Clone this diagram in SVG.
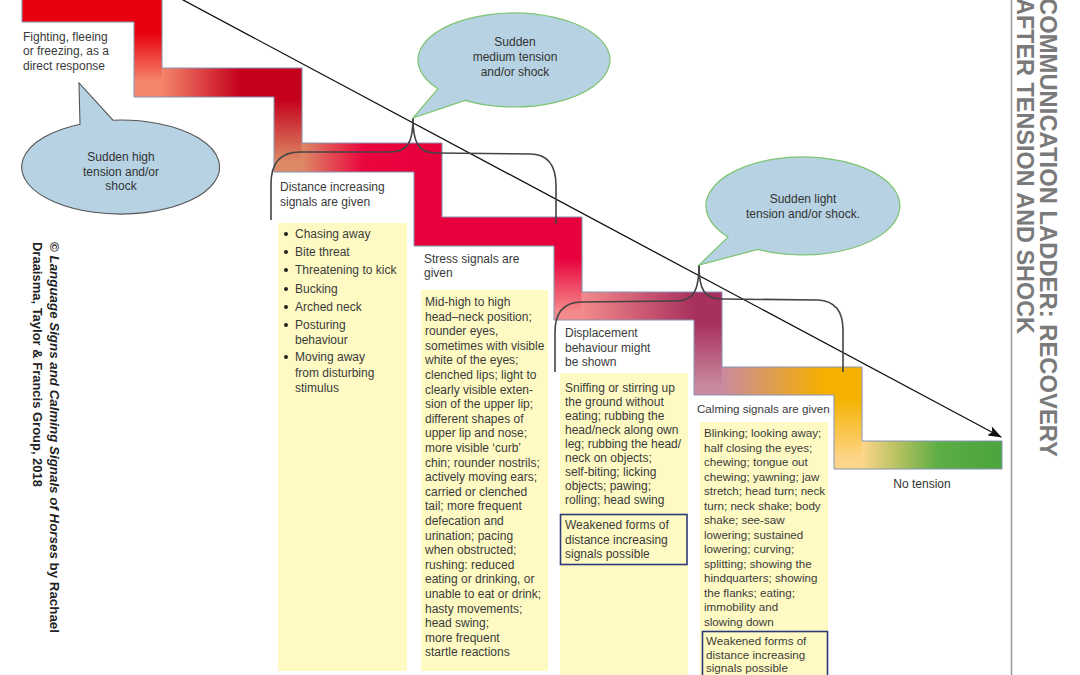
<svg xmlns="http://www.w3.org/2000/svg" width="1080" height="675" viewBox="0 0 1080 675">
<defs>
<style>
.t{font-family:"Liberation Sans",Arial,sans-serif;font-size:12px;fill:#3a3a3a}
.t4{font-family:"Liberation Sans",Arial,sans-serif;font-size:11.6px;fill:#3a3a3a}
.bt{font-family:"Liberation Sans",Arial,sans-serif;font-size:12px;fill:#333;text-anchor:middle}
.col{fill:#fffac4}
.wk{fill:none;stroke:#2b3a78;stroke-width:1.6}
.bub{fill:#b6d2e3;stroke:#7cc46f;stroke-width:1.2}
.brace{fill:none;stroke:#444;stroke-width:1.6}
.title{font-family:"Liberation Sans",Arial,sans-serif;font-weight:bold;font-size:23px;fill:#7a7a7a}
.copy{font-family:"Liberation Sans",Arial,sans-serif;font-weight:bold;font-size:12.5px;fill:#222}
</style>
<marker id="arr" viewBox="0 0 14 10" refX="13" refY="5" markerWidth="14" markerHeight="10" markerUnits="userSpaceOnUse" orient="auto">
<path d="M0,0 L14,5 L0,10 L3,5 Z" fill="#111"/>
</marker>
<linearGradient id="v1" x1="0" y1="0" x2="0" y2="1"><stop offset="0" stop-color="#e8000e"/><stop offset="0.38" stop-color="#e8000e"/><stop offset="0.85" stop-color="#f5866c"/><stop offset="1" stop-color="#f5866c"/></linearGradient>
<linearGradient id="h1" x1="0" y1="0" x2="1" y2="0"><stop offset="0" stop-color="#f5866c"/><stop offset="0.7" stop-color="#c4001c"/><stop offset="1" stop-color="#c4001c"/></linearGradient>
<linearGradient id="v2" x1="0" y1="0" x2="0" y2="1"><stop offset="0" stop-color="#c4001c"/><stop offset="0.3" stop-color="#c4001c"/><stop offset="0.9" stop-color="#dc8a66"/><stop offset="1" stop-color="#dc8a66"/></linearGradient>
<linearGradient id="h2" x1="0" y1="0" x2="1" y2="0"><stop offset="0" stop-color="#dc8a66"/><stop offset="0.55" stop-color="#ea053e"/><stop offset="1" stop-color="#e8003c"/></linearGradient>
<linearGradient id="v4" x1="0" y1="0" x2="0" y2="1"><stop offset="0" stop-color="#e8003c"/><stop offset="0.4" stop-color="#e8003c"/><stop offset="0.92" stop-color="#f48a8a"/><stop offset="1" stop-color="#f48a8a"/></linearGradient>
<linearGradient id="h4" x1="0" y1="0" x2="1" y2="0"><stop offset="0" stop-color="#f48a8a"/><stop offset="1" stop-color="#a8305e"/></linearGradient>
<linearGradient id="v5" x1="0" y1="0" x2="0" y2="1"><stop offset="0" stop-color="#a8305e"/><stop offset="0.3" stop-color="#a8305e"/><stop offset="0.92" stop-color="#c98aa0"/><stop offset="1" stop-color="#c98aa0"/></linearGradient>
<linearGradient id="h5" x1="0" y1="0" x2="1" y2="0"><stop offset="0" stop-color="#c98aa0"/><stop offset="0.9" stop-color="#f5b000"/><stop offset="1" stop-color="#f5b000"/></linearGradient>
<linearGradient id="v6" x1="0" y1="0" x2="0" y2="1"><stop offset="0" stop-color="#f5b200"/><stop offset="0.3" stop-color="#f5b200"/><stop offset="0.92" stop-color="#fdd68c"/><stop offset="1" stop-color="#fdd68c"/></linearGradient>
<linearGradient id="h6" x1="0" y1="0" x2="1" y2="0"><stop offset="0" stop-color="#fdd68c"/><stop offset="0.25" stop-color="#b9c262"/><stop offset="0.55" stop-color="#5cad44"/><stop offset="1" stop-color="#4aa53c"/></linearGradient>
</defs>
<rect width="1080" height="675" fill="#ffffff"/>

<g id="ladder">
<rect x="22" y="-7" width="113" height="29" fill="#e8000e"/>
<rect x="134" y="-7" width="28" height="104" fill="url(#v1)"/>
<rect x="161.5" y="68" width="113" height="29" fill="url(#h1)"/>
<rect x="274" y="68" width="28" height="104" fill="url(#v2)"/>
<rect x="301.5" y="143" width="113" height="29" fill="url(#h2)"/>
<rect x="414" y="143" width="28" height="103" fill="#e8003c"/>
<rect x="441.5" y="217" width="113" height="29" fill="#e8003c"/>
<rect x="554" y="217" width="28" height="103" fill="url(#v4)"/>
<rect x="581.5" y="292" width="113" height="28" fill="url(#h4)"/>
<rect x="694" y="292" width="28" height="103" fill="url(#v5)"/>
<rect x="721.5" y="367" width="113" height="28" fill="url(#h5)"/>
<rect x="834" y="367" width="28" height="102" fill="url(#v6)"/>
<rect x="861.5" y="441" width="140.5" height="28" fill="url(#h6)"/>
<path d="M22,-7 L162,-7 L162,68 L302,68 L302,143 L442,143 L442,217 L582,217 L582,292 L722,292 L722,367 L862,367 L862,441 L1002,441 L1002,469 L834,469 L834,395 L694,395 L694,320 L554,320 L554,246 L414,246 L414,172 L274,172 L274,97 L134,97 L134,22 L22,22 Z" fill="none" stroke="#8494b4" stroke-width="1"/>
</g>

<g id="connectors">
<line x1="170" y1="-7" x2="1001" y2="437" stroke="#111" stroke-width="1.3" marker-end="url(#arr)"/>
<path class="brace" d="M413,118 C413,142 408,152 390,152 L300,152 C280,152 271,163 271,184 L271,220"/>
<path class="brace" d="M413,118 C413,142 418,153 436,153 L530,154 C549,154 556,166 556,186 L556,224"/>
<path class="brace" d="M699,265 C699,290 694,301 676,301 L580,302 C562,303 555,314 555,332 L555,372"/>
<path class="brace" d="M699,265 C699,289 704,299 722,299 L818,300 C836,301 843,312 843,330 L843,372"/>
</g>

<g id="fight">
<text class="t" x="23" y="41">Fighting, fleeing</text>
<text class="t" x="23" y="55">or freezing, as a</text>
<text class="t" x="23" y="70">direct response</text>
</g>

<g id="bubble-high">
<path d="M80,124.2 L79,83 L113,120.2 A99,47 0 1,1 80,124.2 Z" fill="#b6d2e3" stroke="#555" stroke-width="1.1"/>
<text class="bt" x="121" y="161">Sudden high</text>
<text class="bt" x="121" y="176">tension and/or</text>
<text class="bt" x="121" y="190">shock</text>
</g>

<g id="bubble-medium">
<path class="bub" d="M438,88.7 L413,118 L465,100.4 A96,47 0 1,0 438,88.7 Z"/>
<text class="bt" x="515" y="46">Sudden</text>
<text class="bt" x="515" y="61">medium tension</text>
<text class="bt" x="515" y="76">and/or shock</text>
</g>

<g id="bubble-light">
<path class="bub" d="M728,237.1 L699,265 L758,249.4 A97,49 0 1,0 728,237.1 Z"/>
<text class="bt" x="803" y="203">Sudden light</text>
<text class="bt" x="803" y="218">tension and/or shock.</text>
</g>

<g id="distance">
<text class="t" x="280" y="191">Distance increasing</text>
<text class="t" x="280" y="206">signals are given</text>
<rect class="col" x="278" y="223" width="129" height="448"/>
<g fill="#222">
<circle cx="286" cy="234" r="2"/><circle cx="286" cy="252" r="2"/><circle cx="286" cy="270" r="2"/><circle cx="286" cy="289" r="2"/><circle cx="286" cy="307" r="2"/><circle cx="286" cy="325" r="2"/><circle cx="286" cy="357" r="2"/>
</g>
<text class="t" x="295" y="238">Chasing away</text>
<text class="t" x="295" y="256">Bite threat</text>
<text class="t" x="295" y="274">Threatening to kick</text>
<text class="t" x="295" y="293">Bucking</text>
<text class="t" x="295" y="311">Arched neck</text>
<text class="t" x="295" y="329">Posturing</text>
<text class="t" x="295" y="344">behaviour</text>
<text class="t" x="295" y="361">Moving away</text>
<text class="t" x="295" y="377">from disturbing</text>
<text class="t" x="295" y="392">stimulus</text>
</g>

<g id="stress">
<text class="t" x="424" y="263">Stress signals are</text>
<text class="t" x="424" y="277">given</text>
<rect class="col" x="421" y="290" width="127" height="381"/>
<text class="t" x="425" y="306">Mid-high to high</text>
<text class="t" x="425" y="320.6">head–neck position;</text>
<text class="t" x="425" y="335.2">rounder eyes,</text>
<text class="t" x="425" y="349.8">sometimes with visible</text>
<text class="t" x="425" y="364.4">white of the eyes;</text>
<text class="t" x="425" y="379">clenched lips; light to</text>
<text class="t" x="425" y="393.6">clearly visible exten-</text>
<text class="t" x="425" y="408.2">sion of the upper lip;</text>
<text class="t" x="425" y="422.8">different shapes of</text>
<text class="t" x="425" y="437.4">upper lip and nose;</text>
<text class="t" x="425" y="452">more visible ‘curb’</text>
<text class="t" x="425" y="466.6">chin; rounder nostrils;</text>
<text class="t" x="425" y="481.2">actively moving ears;</text>
<text class="t" x="425" y="495.8">carried or clenched</text>
<text class="t" x="425" y="510.4">tail; more frequent</text>
<text class="t" x="425" y="525">defecation and</text>
<text class="t" x="425" y="539.6">urination; pacing</text>
<text class="t" x="425" y="554.2">when obstructed;</text>
<text class="t" x="425" y="568.8">rushing: reduced</text>
<text class="t" x="425" y="583.4">eating or drinking, or</text>
<text class="t" x="425" y="598">unable to eat or drink;</text>
<text class="t" x="425" y="612.6">hasty movements;</text>
<text class="t" x="425" y="627.2">head swing;</text>
<text class="t" x="425" y="641.8">more frequent</text>
<text class="t" x="425" y="656.4">startle reactions</text>
</g>

<g id="displacement">
<text class="t" x="565" y="337">Displacement</text>
<text class="t" x="565" y="352">behaviour might</text>
<text class="t" x="565" y="366">be shown</text>
<rect class="col" x="560" y="373" width="128" height="302"/>
<text class="t" x="565" y="392">Sniffing or stirring up</text>
<text class="t" x="565" y="406">the ground without</text>
<text class="t" x="565" y="420">eating; rubbing the</text>
<text class="t" x="565" y="434">head/neck along own</text>
<text class="t" x="565" y="448">leg; rubbing the head/</text>
<text class="t" x="565" y="462">neck on objects;</text>
<text class="t" x="565" y="476">self-biting; licking</text>
<text class="t" x="565" y="490">objects; pawing;</text>
<text class="t" x="565" y="504">rolling; head swing</text>
<rect class="wk" x="560.5" y="514.5" width="126.5" height="50"/>
<text class="t" x="565" y="529">Weakened forms of</text>
<text class="t" x="565" y="544">distance increasing</text>
<text class="t" x="565" y="558">signals possible</text>
</g>

<g id="calming">
<text class="t4" x="697" y="413">Calming signals are given</text>
<rect class="col" x="700" y="422" width="128" height="253"/>
<text class="t4" x="704" y="437">Blinking; looking away;</text>
<text class="t4" x="704" y="451.5">half closing the eyes;</text>
<text class="t4" x="704" y="466">chewing; tongue out</text>
<text class="t4" x="704" y="480.5">chewing; yawning; jaw</text>
<text class="t4" x="704" y="495">stretch; head turn; neck</text>
<text class="t4" x="704" y="509.5">turn; neck shake; body</text>
<text class="t4" x="704" y="524">shake; see-saw</text>
<text class="t4" x="704" y="538.5">lowering; sustained</text>
<text class="t4" x="704" y="553">lowering; curving;</text>
<text class="t4" x="704" y="567.5">splitting; showing the</text>
<text class="t4" x="704" y="582">hindquarters; showing</text>
<text class="t4" x="704" y="596.5">the flanks; eating;</text>
<text class="t4" x="704" y="611">immobility and</text>
<text class="t4" x="704" y="625.5">slowing down</text>
<rect class="wk" x="702.5" y="631.5" width="125" height="50"/>
<text class="t4" x="706" y="645">Weakened forms of</text>
<text class="t4" x="706" y="659">distance increasing</text>
<text class="t4" x="706" y="671.5">signals possible</text>
</g>

<g id="no-tension">
<text class="bt" x="922" y="488">No tension</text>
</g>

<g id="title">
<line x1="1011.5" y1="0" x2="1011.5" y2="675" stroke="#999" stroke-width="1.5"/>
<text class="title" transform="translate(1040,-2) rotate(90)" textLength="459" lengthAdjust="spacingAndGlyphs">COMMUNICATION LADDER: RECOVERY</text>
<text class="title" transform="translate(1017,-2) rotate(90)" textLength="336" lengthAdjust="spacingAndGlyphs">AFTER TENSION AND SHOCK</text>
</g>

<g id="copyright">
<text class="copy" transform="translate(50,242) rotate(90)" textLength="391" lengthAdjust="spacingAndGlyphs">© <tspan font-style="italic">Language Signs and Calming Signals of Horses</tspan> by Rachael</text>
<text class="copy" transform="translate(33,242) rotate(90)" textLength="245" lengthAdjust="spacingAndGlyphs">Draaisma, Taylor &amp; Francis Group, 2018</text>
</g>
</svg>
